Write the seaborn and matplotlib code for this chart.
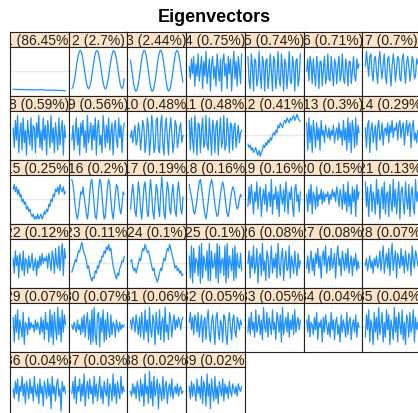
import numpy as np
import pandas as pd
import matplotlib
matplotlib.use("Agg")
import matplotlib.pyplot as plt
import seaborn as sns

# share of each eigenvector (%), as printed in the strips
shares = [86.45, 2.7, 2.44, 0.75, 0.74, 0.71, 0.7,
          0.59, 0.56, 0.48, 0.48, 0.41, 0.3, 0.29,
          0.25, 0.2, 0.19, 0.16, 0.16, 0.15, 0.13,
          0.12, 0.11, 0.1, 0.1, 0.08, 0.08, 0.07,
          0.07, 0.07, 0.06, 0.05, 0.05, 0.04, 0.04,
          0.04, 0.03, 0.02, 0.02]

# eigenvector values (in units of 1/100)
ev01 = [-7.2, -7.3, -7.3, -7.4, -7.3, -7.4, -7.4, -7.3, -7.4, -7.5, -7.4, -7.4, -7.5, -7.5, -7.4, -7.5,
        -7.5, -7.6, -7.5, -7.5, -7.4, -7.5, -7.6, -7.5, -7.3, -7.4, -7.6, -7.6, -7.5, -7.6, -7.6, -7.7,
        -7.6, -7.6, -7.7, -7.7, -7.6, -7.7, -7.8, -7.7, -7.7, -7.8, -7.8, -7.7, -7.8, -7.9, -7.9, -7.9]
ev02 = [-7.0, -6.4, -4.7, -2.2, 0.8, 3.7, 6.2, 7.9, 8.5, 7.9, 6.2, 3.7, 0.8, -2.2, -4.7, -6.4,
        -7.1, -6.3, -4.6, -2.0, 1.0, 3.9, 6.3, 8.0, 8.4, 7.7, 6.0, 3.5, 0.6, -2.4, -4.9, -6.6,
        -7.2, -6.5, -4.8, -2.3, 0.7, 3.6, 6.1, 7.8, 8.3, 7.8, 6.1, 3.6, 0.7, -2.3, -4.8, -6.5,
        -7.0, -5.8, -3.0]
ev03 = [4.4, 1.3, -2.0, -4.9, -7.0, -8.0, -7.8, -6.4, -3.9, -0.9, 2.3, 5.3, 7.4, 8.4, 8.2, 6.8,
        4.3, 1.2, -2.1, -5.0, -7.1, -8.1, -7.7, -6.3, -3.8, -0.8, 2.4, 5.4, 7.5, 8.5, 8.1, 6.7,
        4.2, 1.1, -2.2, -5.1, -7.2, -8.0, -7.6, -6.2, -3.7, -0.7, 2.5, 5.5, 7.5, 8.4, 8.0, 6.6,
        4.2, 1.2, -1.8, -4.4]
ev04 = [2, -3, 5, -1, 6, -6, 3, -2, 7, -4, 1, 6, -7, 4, -2, 8, -5, 0, 5, -8, 3, 6, -3, 2,
        -6, 7, 1, -4, 5, -8, 4, 7, -2, 3, -7, 6, -1, 5, -8, 2, 8, -3, 4, -6, 6, 1, -5, 7]
ev05 = [6, -4, -7, 7, 2, -8, 5, 4, -6, -3, 8, -1, -7, 6, 3, -8, 4, 5, -7, -2, 7, 0, -8, 6,
        4, -7, -2, 8, -3, -6, 7, 1, -8, 5, 3, -7, -1, 8, -4, -5, 6, 2, -8, 4, 5, -6, -3, 7]
ev06 = [0, 5, -4, 6, 3, -5, 5, -1, -6, 6, 2, -7, 4, 4, -6, 1, 6, -5, -2, 7, -3, -4, 6, 0,
        -6, 5, 3, -5, 2, 6, -4, -1, 7, -3, -5, 5, 2, -6, 4, 4, -5, 0, 6, -2, -4, 5, 1, 3]
ev07 = [2, 8, 3, -2, 6, 7, -1, -4, 5, 6, 0, -5, 4, 8, 1, -3, 3, 7, -2, -5, 5, 6, 0, -6,
        2, 7, 3, -4, 1, 6, 5, -3, -4, 5, 7, 1, -5, 3, 6, 2, -4, 0, 6, 4, -3, -2, 5, 3]
ev08 = [3, -5, 6, -2, 8, -7, 1, 5, -6, 7, -3, 2, -8, 6, 0, -4, 7, -6, 4, 3, -7, 5, -1, 8,
        -5, 2, -6, 7, -2, 4, -8, 6, 1, -5, 8, -3, 3, -7, 5, 0, -6, 7, -4, 2, 6, -8, 4, -1]
ev09 = [-2, 4, -6, 1, 7, -4, 3, -8, 5, 0, 6, -5, 2, -7, 8, -3, 1, 5, -6, 4, -2, 7, -8, 3,
        6, -4, 0, -7, 8, 2, -5, 4, -3, 7, -6, 1, 5, -8, 3, 6, -2, -5, 7, -1, 4, -7, 2, 5]
ev10 = [-1, 2, -3, 1, 4, -4, -2, 5, 2, -6, 0, 6, 3, -7, -3, 7, 4, -8, -2, 8, 3, -7, -5, 6,
        7, -6, -7, 5, 8, -4, -8, 3, 7, -1, -8, 2, 7, 1, -7, -3, 6, 4, -5, -2, 3, 5, -3, 0]
ev11 = [6, -6, 7, -2, -7, 8, 1, -8, 5, 4, -7, 2, 7, -5, -3, 8, -4, -6, 7, 0, -8, 6, 3, -7,
        4, 6, -8, 1, 7, -5, -2, 8, -6, -4, 7, 2, -7, 5, 4, -6, 3, 5, -5, 0, 4, -3, 1, 2]
ev12 = [-3.5, -5, -4, -6, -5, -7, -6, -5, -7, -8, -6, -8.5, -7, -6, -4, -5, -3, -4, -2, -3, -1, -2, 0, 1,
        0, 2, 1, 4, 3, 5, 4, 3, 5, 6, 5, 7, 6, 5, 7, 6, 7, 8, 6, 7, 8.5, 7, 6, 5.5]
ev13 = [5, -6, 7, -3, 4, -7, 6, 1, -5, 5, -2, 3, -6, 6, 0, 2, -3, 4, 1, -1, 3, -2, 2, 0,
        4, -3, 1, 3, -2, 5, -1, 2, -4, 6, -2, 3, -6, 7, -3, 5, -7, 6, 2, -5, 7, -4, 4, 1]
ev14 = [3, -5, 4, 6, -7, 2, 5, -3, 1, 4, -6, 3, 6, -2, 0, 5, -4, 2, 3, 0, 5, -3, 4, 1,
        6, -1, 3, 2, 5, -2, 4, 6, -1, 3, 5, -4, 2, 6, 0, 4, 5, -5, 3, 6, -2, 1, -3, 2]
ev15 = [4, 6, 3, 5, 2, 4, 1, 2, -1, 0, -2, -1, -4, -3, -5, -4, -6, -7, -6, -8, -7, -8, -6, -8,
        -7, -6, -8, -7, -5, -6, -4, -5, -2, -3, 0, -1, 2, 1, 4, 3, 5, 2, 6, 4, 3, 5, 2, 3]
ev16 = [8, 6, 2, -3, -6, -8, -5, -1, 3, 2, 5, 1, -2, -6, -8, -4, 2, 7, 8, 3, -2, -7, -8, -3,
        4, 8, 7, 2, -4, -8, -7, -1, 5, 8, 6, 0, -5, -8, -4, 2, 6, 5, 0, -4, -6, -2, 3, 2]
ev17 = [-4, 2, 6, 1, -5, -7, 0, 7, 3, -4, -8, -2, 5, 7, 1, -6, -7, 3, 8, 2, -5, -8, -1, 6,
        4, -3, -7, 2, 9, 3, -6, -8, 1, 7, 4, -4, -6, 2, 6, 0, -5, -7, 3, 7, 2, -4, -6, 1]
ev18 = [6, 3, 1, -2, -5, -6, -3, 0, 4, 7, 8, 5, 1, -3, -6, -8, -5, -1, 3, 6, 8, 6, 2, -2,
        -5, -7, -6, -2, 2, 5, 7, 5, 1, -3, -6, -7, -4, 0, 3, 5, 4, 1, -2, -4, -3, 0, 2, 1]
ev19 = [-3, 5, -2, 6, 1, -6, 3, -1, 7, -4, 2, 5, -7, 0, 4, -2, 6, -5, 1, 3, -3, 8, -6, 2,
        0, 5, -4, 3, -7, 6, 1, -2, 4, -5, 7, 2, -6, 3, 0, 5, -3, -7, 4, 6, -1, 2, -5, 3]
ev20 = [2, -5, 4, -2, 6, -6, 3, 1, -4, 5, -3, 2, 0, 4, -2, 3, -1, 2, 1, 3, -2, 2, 0, 4,
        1, 3, -1, 5, 2, -3, 4, 1, -4, 6, -2, 3, -5, 7, -3, 2, -6, 5, -1, 4, -7, 6, 0, 3]
ev21 = [7, -3, 5, -7, 2, 6, -5, 3, 0, -6, 8, -2, 4, -8, 1, 5, -4, 7, -6, 2, 3, -7, 6, -1,
        -5, 8, -3, 4, -6, 1, 7, -8, 3, 5, -2, -6, 7, 0, -4, 6, -7, 2, 5, -3, -6, 8, -1, 3]
ev22 = [2, -4, 5, -1, 3, -6, 4, 0, -3, 5, -5, 2, 1, -4, 3, -2, 0, 4, -3, -1, 2, -5, 1, -2,
        3, -1, 4, 0, 2, 1, 3, -2, 4, 1, -3, 5, 2, -4, 6, 0, -2, 7, -3, 3, 8, -5, 6, 2]
ev23 = [-3.6, -2, -0.5, 1.5, 0.5, 3, 5, 4.5, 7, 8.4, 6, 4, 3, 1, -2, -1, -4, -6, -7.2,
        -5.5, -6, -3, -4, -1, -2, 1, 0.5, 3, 2.5, 5, 4, 6.5, 5.5, 7.6,
        5, 6, 2, -1, -3, -5, -6.4, -4, -5, -2, -1, 1, 0.5, 2.8]
ev24 = [0.8, 1.5, -1.6, -3, -2, -4, -2, 0, 2, 1, 4, 6, 5, 7.6, 6, 4.4, 5, 3, 1, -1.2, -3, -2, -5, -6,
        -7.6, -6, -4, -2, -3, 0, 2, 1, 4, 6, 5, 7.6, 6, 4, 2, 0, -2, -1, -3, -2, -4, -3, -5, -4.4]
ev25 = [3, -6, 7, -8, 6, -4, 2, 1, -5, 7, -8, 8, -6, 3, 0, -3, 5, -7, 8, -7, 5, -2, -1, 4,
        -6, 8, -8, 7, -4, 1, 2, -5, 7, -8, 8, -6, 3, 0, -3, 6, -7, 7, -6, 4, -1, -2, 4, -3]
ev26 = [0, 5, -6, 3, -2, 7, -4, -1, 6, -8, 2, 4, -5, 8, -3, 1, -7, 5, 3, -6, 0, 7, -4, 2,
        -2, 4, -6, 8, -1, -5, 3, 6, -7, 1, 5, -3, -2, 7, -6, 3, 0, -4, 5, -1, -5, 4, -2, 1]
ev27 = [-2, 3, -4, 1, 5, -3, 2, -5, 4, 0, 6, -2, 3, -6, 2, 5, -1, 7, -4, 1, 3, -3, 6, -2,
        0, 4, -6, 3, 7, -1, 2, -5, 5, 1, -3, 4, -2, 6, -4, 0, 3, -5, 2, -1, 4, -3, 1, -2]
ev28 = [-1, 2, -3, 0, 3, -2, 1, -4, 2, -1, 3, -2, 0, 5, -3, 2, 7, -4, 1, 4, -2, 6, -5, 3,
        8, -3, 2, 5, -6, 4, 1, -2, 6, -1, 3, -4, 5, 0, -3, 4, 2, -5, 7, 1, -2, 5, 3, -1]
ev29 = [4, -6, 5, -2, 7, -5, 3, 0, -4, 6, -7, 2, 1, -3, 4, -1, 2, 0, 1, -2, 3, -1, 2, 0,
        -3, 4, -2, 3, -5, 6, -1, 2, -6, 7, -4, 5, -7, 6, 0, -5, 8, -3, 4, -6, 7, -2, 5, 1]
ev30 = [1, -1, 2, 0, -2, 3, -1, 1, -3, 4, -2, 5, -4, 2, 6, -5, 3, -7, 7, -6, 8, -3, -7, 5,
        6, -8, 4, -2, 7, -6, 3, -5, 6, -1, -4, 5, -3, 2, 1, -4, 3, 0, -2, 2, -1, 1, 0, 1]
ev31 = [3, -1, 4, 2, -2, 5, 1, -3, 4, -4, 6, 0, -5, 7, -2, 3, -6, 8, -1, -4, 5, 2, -7, 6,
        0, -3, 7, -5, 2, 4, -6, 8, -2, 1, -5, 6, 3, -4, 2, 5, -1, 3, 0, 4, 2, -1, 3, 4]
ev32 = [2, 6, -1, 4, -3, 5, 3, -2, 6, -4, 1, 5, -6, 2, 4, -5, 3, 7, -3, -6, 2, 5, -1, -7,
        4, 6, -2, -5, 3, 1, -6, 5, 4, -3, -7, 2, 6, 0, -5, 3, 5, -2, -4, 4, 2, -1, 3, 1]
ev33 = [-2, 4, -3, 6, -1, 2, -4, 7, -2, 1, 5, -3, 3, -5, 8, 0, -2, 6, -4, 4, 1, -3, 7, -1,
        2, -5, 6, 3, -2, 5, -6, 8, -3, 1, 4, -2, 6, -4, 3, -1, 5, -3, 7, -2, 2, 4, -1, 3]
ev34 = [3, -2, 5, -4, 2, 1, -3, 4, -1, 6, -5, 2, 0, 3, -6, 4, -2, 5, 1, -3, 2, -4, 6, -1,
        3, -5, 2, 4, -3, 1, -6, 5, -2, 3, 0, -4, 6, -3, 2, 4, -5, 1, 3, -2, 5, -4, 2, 0]
ev35 = [-4, 5, -1, 7, -6, 3, 0, -7, 6, -2, 4, -5, 8, -3, 1, 6, -6, 2, -4, 7, -1, 5, -7, 3,
        0, -5, 8, -2, 4, -6, 6, 1, -3, 7, -5, 2, -7, 5, 3, -4, 6, -2, 0, 7, -6, 4, -1, 2]
ev36 = [1, -3, 4, -1, 5, -4, 2, 0, 6, -2, 3, -5, 4, 1, -3, 5, -1, 2, -4, 6, 0, -2, 3, -5,
        5, -1, 2, -6, 4, 1, -3, 5, -2, 3, -7, 6, -1, 2, -4, 3, 5, -2, 1, -8, 4, 0, 2, -1]
ev37 = [-1, 4, -3, 6, -5, 2, 0, 5, -4, 3, -2, 7, -6, 1, 4, -3, 5, -1, 2, -5, 6, -2, 3, -4,
        1, 6, -3, 2, -5, 4, 0, -2, 5, -6, 3, 1, -4, 7, -2, 3, -5, 4, 0, -3, 6, -1, 2, 0]
ev38 = [0, -2, 3, -1, 2, -3, 4, 1, -4, 5, -2, 3, -6, 7, -1, 2, -5, 8, -3, 4, -6, 6, -2, 1,
        5, -7, 3, 0, -4, 6, -3, 2, 4, -5, 1, 3, -2, 5, -3, 0, 2, -1, 3, -2, 1, 2, -1, 0]
ev39 = [2, -3, 4, -2, 3, 0, -4, 5, -1, 2, -3, 6, -5, 4, 1, -6, 7, -2, 3, -7, 5, 0, -4, 6,
        -3, 2, -5, 4, 1, -2, 5, -4, 3, -1, 2, -3, 4, 0, -2, 3, 1, -1, 2, -2, 3, 1, 0, 2]

vectors = [ev01, ev02, ev03, ev04, ev05, ev06, ev07, ev08, ev09, ev10, ev11, ev12, ev13,
           ev14, ev15, ev16, ev17, ev18, ev19, ev20, ev21, ev22, ev23, ev24, ev25, ev26,
           ev27, ev28, ev29, ev30, ev31, ev32, ev33, ev34, ev35, ev36, ev37, ev38, ev39]
labels = [f"{i + 1} ({s:g}%)" for i, s in enumerate(shares)]

sns.set_theme(style="white")
plt.rcParams['font.family'] = ['Liberation Sans', 'DejaVu Sans']

W, H = 418, 414
fig = plt.figure(figsize=(W / 100, H / 100), dpi=100)
fig.text(214 / W, 1 - 17 / H, "Eigenvectors", ha="center", va="center",
         fontsize=13, fontweight="bold", color="black")

ncol = 7
x0, top = 10, 33
cw, rh, sh = 58.7, 64, 14.5

for k, (vals, lab) in enumerate(zip(vectors, labels)):
    r, c = divmod(k, ncol)
    left = x0 + c * cw
    ytop = top + r * rh
    # strip
    sax = fig.add_axes([left / W, 1 - (ytop + sh) / H, cw / W, sh / H])
    sax.set_facecolor("#FFE4C8")
    sax.set_xticks([])
    sax.set_yticks([])
    sax.text(0.5, 0.45, lab, ha="center", va="center", fontsize=10,
             color="#222222", transform=sax.transAxes, clip_on=True)
    # panel
    ax = fig.add_axes([left / W, 1 - (ytop + rh) / H, cw / W, (rh - sh) / H])
    n = len(vals)
    df = pd.DataFrame({"idx": np.arange(n), "val": vals})
    ax.axhline(0, color="#E8E8E8", lw=1, zorder=0)
    sns.lineplot(data=df, x="idx", y="val", ax=ax, color="#1E90FF", lw=0.9)
    ax.set_xlim(-0.06 * (n - 1), 1.06 * (n - 1))
    ax.set_ylim(-10, 10)
    ax.set_xticks([])
    ax.set_yticks([])
    ax.set_xlabel("")
    ax.set_ylabel("")
    for a in (sax, ax):
        for sp in a.spines.values():
            sp.set_color("#222222")
            sp.set_linewidth(0.8)

fig.savefig("out.png", dpi=100)
